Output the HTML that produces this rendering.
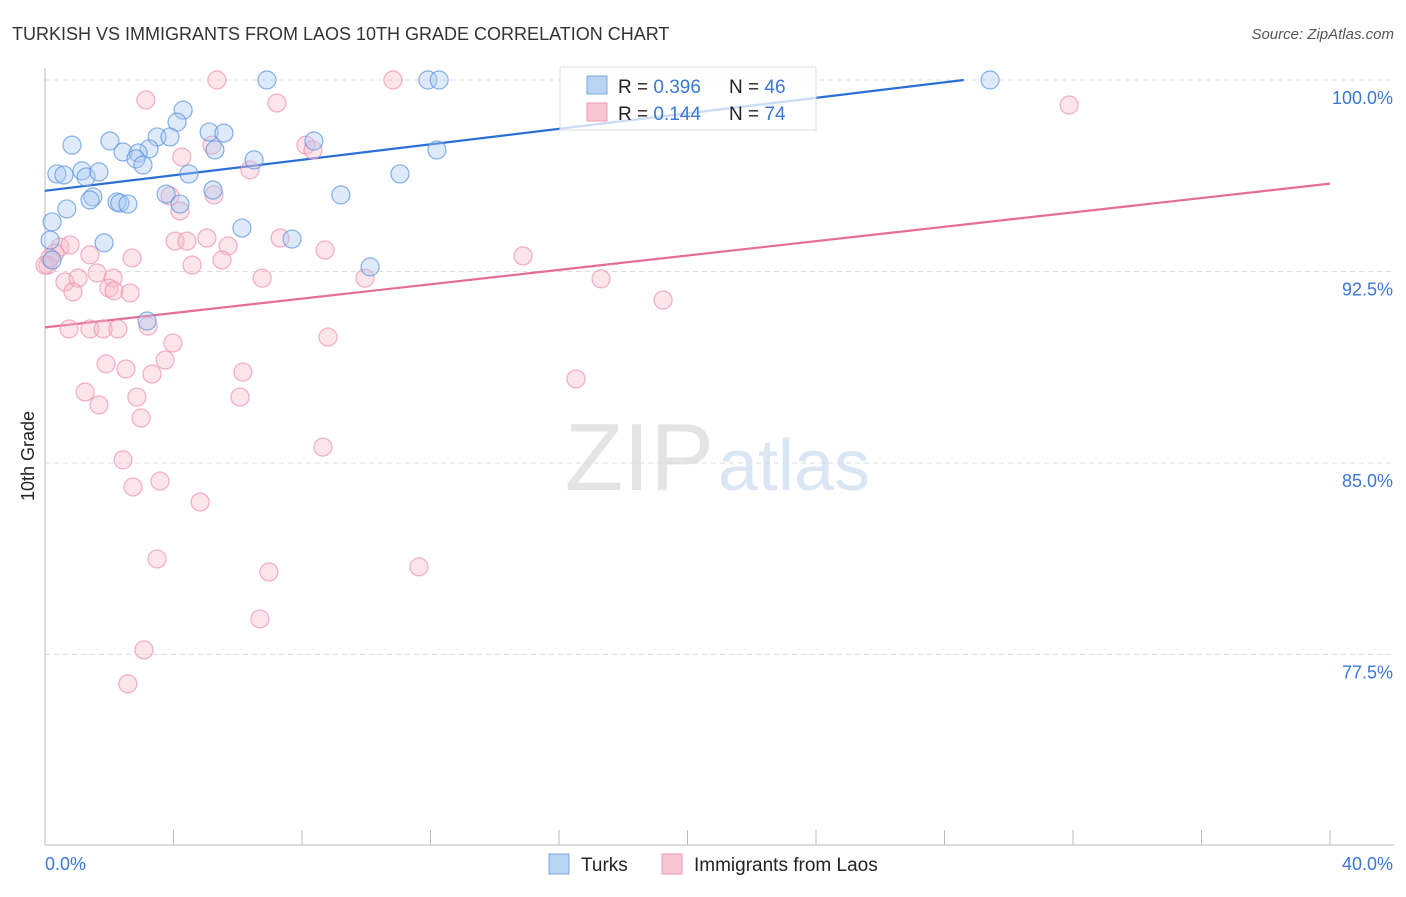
<!DOCTYPE html>
<html><head><meta charset="utf-8">
<style>
body{margin:0;background:#fff;font-family:"Liberation Sans",sans-serif;}
svg text{font-family:"Liberation Sans",sans-serif;}
</style></head>
<body>
<svg id="chart" width="1406" height="892" viewBox="0 0 1406 892" xmlns="http://www.w3.org/2000/svg">
<text x="12" y="40" font-size="18" fill="#333">TURKISH VS IMMIGRANTS FROM LAOS 10TH GRADE CORRELATION CHART</text>
<text x="1394" y="39" font-size="15" fill="#555" text-anchor="end" font-style="italic">Source: ZipAtlas.com</text>
<g>
<text x="714" y="490" font-size="96" fill="#e4e4e4" text-anchor="end" font-family="Liberation Serif">ZIP</text>
<text x="718" y="490" font-size="72" fill="#dbe6f4">atlas</text>
</g>
<g id="grid"></g>
<g id="axes"></g>
<g id="lines"></g>
<g id="dots"></g>
<text transform="translate(34,456) rotate(-90)" font-size="18" fill="#222" text-anchor="middle">10th Grade</text>
<g>
<rect x="560" y="67" width="256" height="63" fill="#fff" fill-opacity="0.75" stroke="#ddd"/>
<rect x="587" y="76" width="20" height="18" fill="#b9d3f3" stroke="#7aa8e0"/>
<rect x="587" y="103" width="20" height="18" fill="#f9c4d4" stroke="#ee9ab4"/>
<text x="618" y="93" font-size="19" fill="#222">R = <tspan fill="#3a78d4">0.396</tspan></text>
<text x="729" y="93" font-size="19" fill="#222">N = <tspan fill="#3a78d4">46</tspan></text>
<text x="618" y="120" font-size="19" fill="#222">R = <tspan fill="#3a78d4">0.144</tspan></text>
<text x="729" y="120" font-size="19" fill="#222">N = <tspan fill="#3a78d4">74</tspan></text>
</g>
<g>
<rect x="549" y="854" width="20" height="20" fill="#b9d3f3" stroke="#7aa8e0"/>
<text x="581" y="871" font-size="19" fill="#222">Turks</text>
<rect x="662" y="854" width="20" height="20" fill="#f9c4d4" stroke="#ee9ab4"/>
<text x="694" y="871" font-size="19" fill="#222">Immigrants from Laos</text>
</g>
</svg>
<script>
const turksX=[6.91,11.92,12.27,29.42,4.30,4.11,2.02,3.49,3.89,5.11,5.57,8.37,0.84,2.43,3.24,2.90,2.83,3.05,6.51,5.29,12.20,0.37,0.59,1.15,1.28,1.68,4.48,11.05,1.49,3.77,5.23,9.21,1.40,2.24,2.33,2.58,4.20,0.68,0.22,6.13,1.84,7.69,10.12,3.18,0.16,0.22];
const turksY=[100,100,100,100,98.82,98.35,97.61,97.77,97.77,97.96,97.92,97.61,97.45,97.18,97.30,97.14,96.91,96.67,96.87,97.26,97.26,96.32,96.28,96.44,96.20,96.40,96.32,96.32,95.42,95.53,95.69,95.50,95.30,95.22,95.18,95.14,95.14,94.95,94.44,94.20,93.62,93.77,92.68,90.56,93.73,92.95];
const laosX=[5.35,10.83,31.88,3.14,7.22,5.20,4.26,8.12,8.34,6.38,3.89,5.26,4.20,0.47,0.78,0.31,0.09,1.40,2.71,4.05,4.42,5.04,5.70,7.32,8.72,14.88,4.58,5.51,0.62,1.03,1.62,2.12,0.87,1.99,2.15,2.65,17.31,6.76,9.96,19.24,0.75,1.40,1.81,2.27,3.21,3.98,8.81,3.74,1.90,2.52,3.33,6.16,16.53,1.25,1.68,2.86,2.99,6.07,2.43,8.65,2.74,3.58,4.83,3.49,6.97,11.64,6.69,3.08,2.58,0,0.16];
const laosY=[100,100,99.02,99.22,99.10,97.45,96.98,97.45,97.26,96.48,95.46,95.50,94.87,93.46,93.54,93.22,92.75,93.15,93.03,93.69,93.69,93.81,93.50,93.81,93.34,93.11,92.75,92.95,92.09,92.24,92.44,92.24,91.70,91.85,91.74,91.66,92.21,92.24,92.24,91.38,90.25,90.25,90.25,90.25,90.36,89.70,89.93,89.03,88.88,88.68,88.48,88.56,88.29,87.78,87.27,87.58,86.76,87.58,85.12,85.62,84.06,84.29,83.47,81.24,80.73,80.93,78.89,77.68,76.35,92.75,93.03];
const yTicks=[100,92.5,85,77.5];
const yTickLabels=["100.0%","92.5%","85.0%","77.5%"];
const turksTrend=[[0,95.66],[28.6,100]];
const laosTrend=[[0,90.31],[40,95.94]];
const NS="http://www.w3.org/2000/svg";
const xs=v=>45+v/40*1285;
const ys=v=>80+(100-v)*25.53;
function mk(tag,attrs,parent){const e=document.createElementNS(NS,tag);for(const k in attrs)e.setAttribute(k,attrs[k]);parent.appendChild(e);return e;}
const grid=document.getElementById('grid'),axes=document.getElementById('axes'),lines=document.getElementById('lines'),dots=document.getElementById('dots');
yTicks.forEach((t,i)=>{
 const l=mk('line',{x1:45,x2:1394,y1:ys(t),y2:ys(t),stroke:'#ddd','stroke-dasharray':'5,4'},grid);
 
 
 const tx=mk('text',{x:1393,y:ys(t)+24,'font-size':18,fill:'#3a78d4','text-anchor':'end'},grid);
 tx.textContent=yTickLabels[i];
 
 
});
const ax=mk('line',{x1:45,x2:45,y1:68,y2:845,stroke:'#bbb'},axes);


const bx=mk('line',{x1:45,x2:1394,y1:845,y2:845,stroke:'#bbb'},axes);


for(let i=0;i<=10;i++){
 const t=mk('line',{x1:xs(i*4),x2:xs(i*4),y1:830,y2:845,stroke:'#bbb'},axes);
 
 
}
[["0.0%",45,'start'],["40.0%",1393,'end']].forEach(a=>{
 const t=mk('text',{x:a[1],y:870,'font-size':18,fill:'#3a78d4','text-anchor':a[2]},axes);
 t.textContent=a[0];
 
 
});
function drawDots(X,Y,fill,stroke,name){
 X.forEach((x,i)=>{
  const c=mk('circle',{cx:xs(x),cy:ys(Y[i]),r:9,fill:fill,'fill-opacity':0.38,stroke:stroke,'stroke-opacity':0.75,'stroke-width':1.2},dots);
  
  
 });
}
drawDots(laosX,laosY,'#f6b8cb','#ee94b0','laos-point');
drawDots(turksX,turksY,'#a9c9f1','#5f97df','turks-point');
function trend(p,col,name){
 const l=mk('line',{x1:xs(p[0][0]),y1:ys(p[0][1]),x2:xs(p[1][0]),y2:ys(p[1][1]),stroke:col,'stroke-width':2.2},lines);
 
 
}
trend(turksTrend,'#2a6fd6','turks-trendline');
trend(laosTrend,'#e46d98','laos-trendline');
</script>
</body></html>
